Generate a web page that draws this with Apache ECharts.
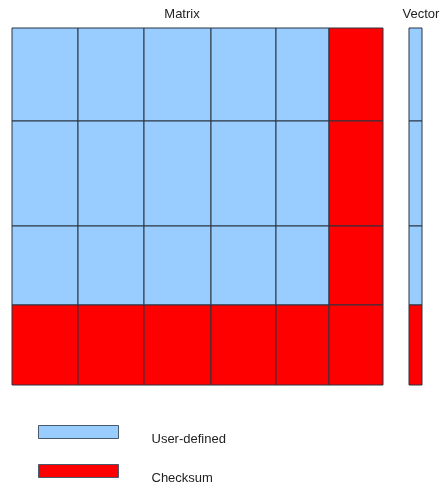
<!DOCTYPE html>
<html><head><meta charset="utf-8">
<script src="https://cdn.jsdelivr.net/npm/echarts@6/dist/echarts.min.js"></script>
<style>html,body{margin:0;padding:0;background:#fff}#c{width:442px;height:486px}</style>
</head><body><div id="c"></div>
<script>
// Column edges of the matrix (x units) and of the vector
var matrixColEdges = [0, 66, 132, 199, 264, 317, 371];
var vectorColEdges = [397, 410];
// Row edges shared by matrix and vector (y units, from top)
var rowEdges = [0, 93, 198, 277, 357];
// Cell kinds: U = User-defined, C = Checksum
var matrixKinds = [
  ['U','U','U','U','U','C'],
  ['U','U','U','U','U','C'],
  ['U','U','U','U','U','C'],
  ['C','C','C','C','C','C']
];
var vectorKinds = ['U','U','U','C'];
var seriesNames = ['User-defined', 'Checksum'];
var seriesKeys = ['U', 'C'];
var panelTitles = ['Matrix', 'Vector'];

function cellsFor(key) {
  var out = [];
  for (var r = 0; r < matrixKinds.length; r++) {
    for (var c = 0; c < matrixKinds[r].length; c++) {
      if (matrixKinds[r][c] === key) out.push([matrixColEdges[c], matrixColEdges[c+1], rowEdges[r], rowEdges[r+1]]);
    }
    if (vectorKinds[r] === key) out.push([vectorColEdges[0], vectorColEdges[1], rowEdges[r], rowEdges[r+1]]);
  }
  return out;
}
var colors = ['#99ccff', '#ff0000'];
function renderItem(params, api) {
  var p0 = api.coord([api.value(0), api.value(2)]);
  var p1 = api.coord([api.value(1), api.value(3)]);
  return {
    type: 'rect',
    shape: {x: p0[0], y: p0[1], width: p1[0] - p0[0], height: p1[1] - p0[1]},
    style: {fill: api.visual('color'), stroke: '#2b3440', lineWidth: 1}
  };
}
var font = 'Liberation Sans, Arial, sans-serif';
var chart = echarts.init(document.getElementById('c'));
chart.setOption({
  animation: false,
  color: colors,
  textStyle: {fontFamily: font},
  title: [
    {text: panelTitles[0], left: 182, top: 8, padding: 0, textAlign: 'center', textStyle: {fontSize: 13, fontWeight: 'normal', color: '#222', fontFamily: font}},
    {text: panelTitles[1], left: 421, top: 8, padding: 0, textAlign: 'center', textStyle: {fontSize: 13, fontWeight: 'normal', color: '#222', fontFamily: font}}
  ],
  grid: {left: 12, top: 28, width: 410, height: 357, containLabel: false},
  xAxis: {type: 'value', min: 0, max: 410, show: false},
  yAxis: {type: 'value', min: 0, max: 357, inverse: true, show: false},
  legend: seriesNames.map(function (n, i) {
    return {
      left: 38, top: [425, 464][i], padding: 0, itemWidth: 80, itemHeight: 13, itemGap: 0,
      icon: 'rect',
      itemStyle: {borderColor: '#4a5a6a', borderWidth: 1},
      formatter: '{t|{name}}',
      textStyle: {
        fontSize: 13, color: '#222', fontFamily: font,
        rich: {t: {fontSize: 13, color: '#222', fontFamily: font, padding: [14, 0, 0, 28]}}
      },
      data: [n]
    };
  }),
  series: seriesKeys.map(function (k, i) {
    return {
      type: 'custom', name: seriesNames[i], renderItem: renderItem,
      encode: {x: [0, 1], y: [2, 3]},
      data: cellsFor(k)
    };
  })
});
</script></body></html>
